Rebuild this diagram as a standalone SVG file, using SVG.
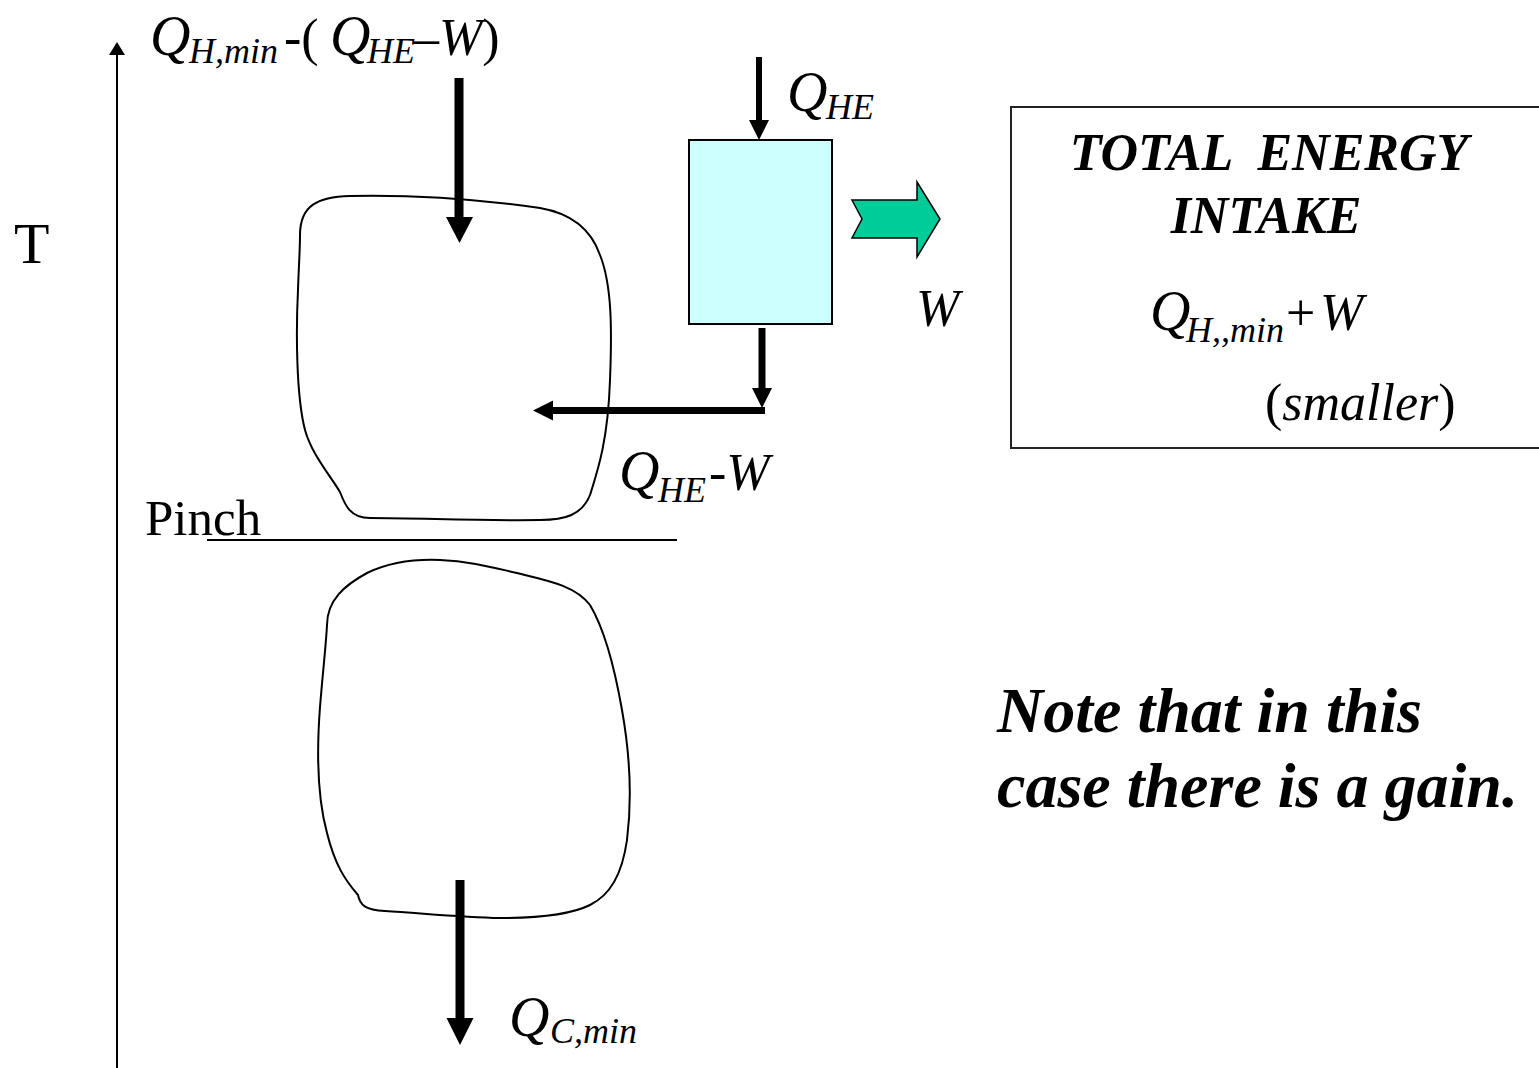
<svg xmlns="http://www.w3.org/2000/svg" width="1539" height="1068" viewBox="0 0 1539 1068">
<style>
text{font-family:"Liberation Serif","Times New Roman",serif;fill:#000}
.i{font-style:italic}
.m{font-size:52px}
.q{font-size:56px;font-style:italic}
.s{font-size:36px}
.bi{font-style:italic;font-weight:bold}
.blob{fill:none;stroke:#000;stroke-width:2}
.shaft{stroke:#000;fill:none}
.head{fill:#000;stroke:none}
</style>
<rect width="1539" height="1068" fill="#fff"/>

<g id="axis">
<line x1="117" y1="1068" x2="117" y2="52" stroke="#000" stroke-width="2"/>
<polygon points="117,42 109,55 125,55" fill="#000"/>
<text x="14" y="263" style="font-size:58px">T</text>
</g>

<g id="upper-region">
<path class="blob" d="M 300,235 C 300,205 318,197 350,196 C 400,195 470,198 540,208 C 575,214 592,232 600,255 C 612,285 612,330 610,380 C 608,440 598,470 590,495 C 582,515 565,520 540,520 C 480,521 420,518 370,518 C 350,518 345,505 340,492 C 330,475 312,455 305,430 C 296,395 296,330 298,290 C 299,260 300,250 300,235 Z"/>
</g>

<g id="lower-region">
<path class="blob" d="M 327,625 C 327,600 345,585 367,573 C 390,562 415,559 440,560 C 470,561 495,568 517,573 C 545,580 575,585 590,605 C 605,630 615,670 622,710 C 630,755 632,800 627,840 C 622,875 610,895 590,905 C 570,915 540,918 500,918 C 460,917 420,913 385,911 C 365,910 360,905 358,895 C 345,880 335,865 327,833 C 318,800 316,760 320,707 C 323,670 326,645 327,625 Z"/>
</g>

<g id="pinch">
<line x1="207" y1="540" x2="677" y2="540" stroke="#000" stroke-width="2"/>
<text x="145" y="535" style="font-size:51px">Pinch</text>
</g>

<g id="heat-engine">
<rect x="689" y="140" width="143" height="184" fill="#CCFFFF" stroke="#000" stroke-width="2"/>
</g>

<g id="work-arrow">
<polygon points="852,200 917,200 917,182 940,219 917,257 917,238 852,238 862,219" fill="#00CC99" stroke="#000" stroke-width="1.5" stroke-linejoin="miter"/>
</g>

<g id="energy-box">
<rect x="1011" y="107" width="540" height="341" fill="none" stroke="#222" stroke-width="2"/>
<text x="1269" y="170" class="bi" style="font-size:52px" text-anchor="middle" xml:space="preserve">TOTAL  ENERGY</text>
<text x="1266" y="233" class="bi" style="font-size:52px" text-anchor="middle">INTAKE</text>
<text y="330"><tspan x="1150" class="q">Q</tspan><tspan x="1186" y="342" class="i s">H,,min</tspan><tspan x="1286" y="330" class="m">+</tspan><tspan x="1320" class="i m">W</tspan></text>
<text y="420" class="m"><tspan x="1265">(</tspan><tspan class="i">smaller</tspan><tspan>)</tspan></text>
</g>

<g id="note">
<text x="997" y="732" class="bi" style="font-size:64px">Note that in this</text>
<text x="997" y="807" class="bi" style="font-size:64px">case there is a gain.</text>
</g>

<g id="connectors">
<line class="shaft" x1="459" y1="78" x2="459" y2="220" stroke-width="9"/>
<polygon class="head" points="446,217 473,217 459.5,243"/>
<line class="shaft" x1="759" y1="57" x2="759" y2="122" stroke-width="6"/>
<polygon class="head" points="749,120 769,120 759,140"/>
<line class="shaft" x1="762" y1="328" x2="762" y2="390" stroke-width="7"/>
<polygon class="head" points="752,388 772,388 762,408"/>
<line class="shaft" x1="765" y1="410.5" x2="551" y2="410.5" stroke-width="7"/>
<polygon class="head" points="553,400.5 553,420.5 533,410.5"/>
<line class="shaft" x1="460" y1="880" x2="460" y2="1020" stroke-width="9"/>
<polygon class="head" points="446.5,1018 473.5,1018 460,1045"/>
</g>

<g id="labels">
<text y="55"><tspan x="150" class="q">Q</tspan><tspan x="189" y="63" class="i s">H,min</tspan><tspan x="284" y="55" class="m">-(</tspan><tspan x="330" class="q">Q</tspan><tspan x="367" y="63" class="i s">HE</tspan><tspan x="413" y="55" class="m">–</tspan><tspan class="i m">W</tspan><tspan class="m">)</tspan></text>
<text y="111"><tspan x="787" class="q">Q</tspan><tspan x="826" y="119" class="i s">HE</tspan></text>
<text x="916" y="326" class="i m">W</text>
<text y="490"><tspan x="619" class="q">Q</tspan><tspan x="658" y="502" class="i s">HE</tspan><tspan x="709" y="490" class="i m">-W</tspan></text>
<text y="1036"><tspan x="509" class="q">Q</tspan><tspan x="550" y="1043" class="i s">C,min</tspan></text>
</g>
</svg>
